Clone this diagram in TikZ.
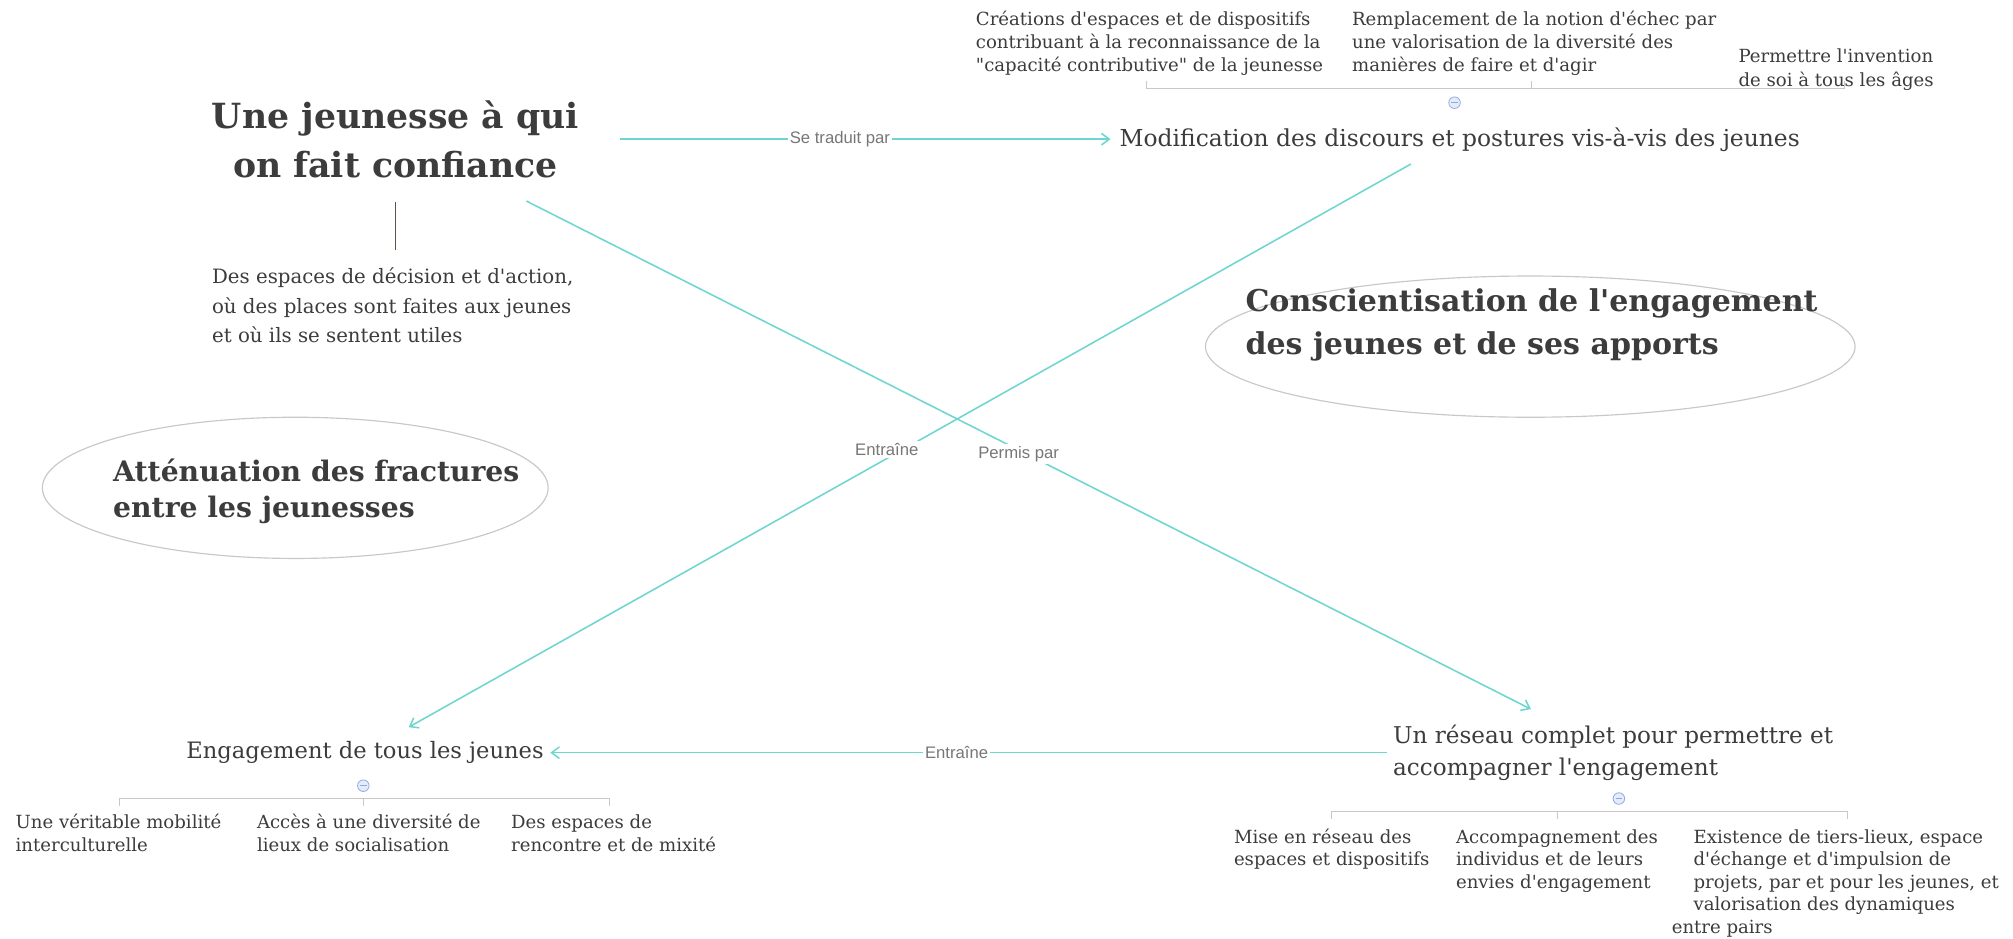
\documentclass[tikz,border=0pt]{standalone}
\usepackage{fontspec}
\newfontfamily\gfont{DejaVu Serif}
\newfontfamily\lblfont{Liberation Sans}
\usetikzlibrary{arrows.meta,shapes.geometric}
\definecolor{txt}{HTML}{3C3C3C}
\definecolor{cline}{HTML}{6ED6D0}
\definecolor{gline}{HTML}{C8C8C8}
\definecolor{lblc}{HTML}{777777}
\definecolor{mcol}{HTML}{8FA8E0}
\definecolor{mfill}{HTML}{E4ECFB}
\begin{document}
\begin{tikzpicture}[x=1pt,y=-1pt,
  tx/.style={text=txt, inner sep=0pt, align=left},
  big/.style={tx, font=\gfont\bfseries\fontsize{27}{38}\selectfont},
  consctx/.style={tx, font=\gfont\bfseries\fontsize{23.4}{33}\selectfont},
  attentx/.style={tx, font=\gfont\bfseries\fontsize{22}{28}\selectfont},
  mid/.style={tx, font=\gfont\fontsize{18}{25}\selectfont},
  desc/.style={tx, font=\gfont\fontsize{15.4}{23}\selectfont},
  kid/.style={tx, font=\gfont\fontsize{14.1}{18}\selectfont},
  kidr/.style={tx, font=\gfont\fontsize{14.1}{17.5}\selectfont},
  oval/.style={ellipse, draw=gline, line width=0.9pt, inner sep=0pt},
  conn/.style={draw=cline, line width=1.2pt, -{Straight Barb[length=6pt,width=9pt]}},
  lbl/.style={font=\lblfont\fontsize{13}{15}\selectfont, text=lblc, fill=white, inner sep=1.5pt},
  bracket/.style={draw=gline, line width=0.9pt},
  minus/.style={circle, draw=mcol, fill=mfill, line width=0.6pt, minimum size=9pt, inner sep=0pt,
    path picture={\draw[mcol, line width=0.8pt] ([xshift=-2.5pt]path picture bounding box.center) -- ([xshift=2.5pt]path picture bounding box.center);}}
]
\useasboundingbox[fill=white] (0,0) rectangle (1568,731);

% ---- nodes (base anchor = baseline of the last line)
\node[big, align=center, anchor=base] (title) at (308,138) {Une jeunesse à qui\\on fait confiance};
\node[desc, anchor=base west] (descr) at (165,267) {Des espaces de décision et d'action,\\où des places sont faites aux jeunes\\et où ils se sentent utiles};
\node[mid, font=\gfont\fontsize{18.2}{25}\selectfont, anchor=base west] (modif) at (872,114) {Modification des discours et postures vis-à-vis des jeunes};

\node[kid, anchor=base west] (c1) at (760,56) {Créations d'espaces et de dispositifs\\contribuant à la reconnaissance de la\\"capacité contributive" de la jeunesse};
\node[kid, anchor=base west] (c2) at (1053,56) {Remplacement de la notion d'échec par\\une valorisation de la diversité des\\manières de faire et d'agir};
\node[kid, anchor=base west] (c3) at (1354,67) {Permettre l'invention\\de soi à tous les âges};
\node[minus] (m1) at (1133,80) {};

\node[oval, minimum width=506pt, minimum height=110pt] (consc) at (1192,270) {};
\node[consctx, anchor=base west] (conscT) at (970,276) {Conscientisation de l'engagement\\des jeunes et de ses apports};

\node[oval, minimum width=394pt, minimum height=110pt] (atten) at (230,380) {};
\node[attentx, anchor=base west] (attenT) at (88,403) {Atténuation des fractures\\entre les jeunesses};

\node[mid, font=\gfont\fontsize{17.6}{25}\selectfont, anchor=base west] (engage) at (145,591) {Engagement de tous les jeunes};
\node[mid, anchor=base west] (reseau) at (1085,604) {Un réseau complet pour permettre et\\accompagner l'engagement};

\node[minus] (m2) at (283,612) {};
\node[kid, anchor=base west] (b1) at (12,663) {Une véritable mobilité\\interculturelle};
\node[kid, anchor=base west] (b2) at (200,663) {Accès à une diversité de\\lieux de socialisation};
\node[kid, anchor=base west] (b3) at (398,663) {Des espaces de\\rencontre et de mixité};

\node[minus] (m3) at (1261,622) {};
\node[kidr, anchor=base west] (r1) at (961,674.5) {Mise en réseau des\\espaces et dispositifs};
\node[kidr, anchor=base west] (r2) at (1134,692) {Accompagnement des\\individus et de leurs\\envies d'engagement};
\node[kidr, anchor=base west] (r3) at (1319,727) {Existence de tiers-lieux, espace\\d'échange et d'impulsion de\\projets, par et pour les jeunes, et\\valorisation des dynamiques\\\hspace*{-17pt}entre pairs};

% ---- title to its detail
\draw[draw=txt!70!brown, line width=1pt] ([yshift=-19pt]title.south) -- ([yshift=14pt]title.south |- descr.north);

% ---- brackets
\draw[bracket] (893,63) -- (893,69) -- (1437,69) -- (1437,63);
\draw[bracket] (1193,69) -- (1193,63);
\draw[bracket] (93,628) -- (93,622) -- (475,622) -- (475,628);
\draw[bracket] (283,622) -- (283,628);
\draw[bracket] (1037,638) -- (1037,632) -- (1439,632) -- (1439,638);
\draw[bracket] (1213,632) -- (1213,638);

% ---- connectors
\draw[conn, shorten >=7pt] ([xshift=32pt]title.east) -- node[lbl, pos=0.44] {Se traduit par} (title.east -| modif.west);
\draw[conn] ([xshift=-38pt,yshift=-9.5pt]modif.south) -- node[lbl, pos=0.523, yshift=7pt] {Entraîne} ([xshift=34pt,yshift=11pt]engage.north);
\draw[conn] ([xshift=102pt,yshift=-18pt]title.south) -- node[lbl, pos=0.49, yshift=-3pt] {Permis par} ([xshift=-64pt,yshift=12pt]reseau.north);
\draw[conn, shorten <=5pt, shorten >=5pt] (reseau.west |- engage.east) -- node[lbl, pos=0.514] {Entraîne} (engage.east);
\end{tikzpicture}
\end{document}
